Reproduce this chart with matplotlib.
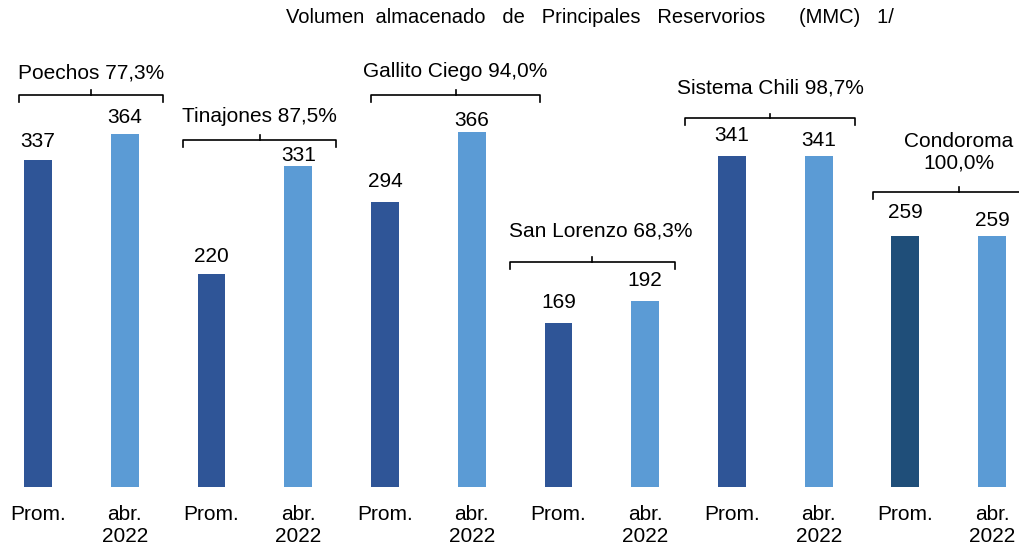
import matplotlib
matplotlib.use("Agg")
import matplotlib.pyplot as plt
import numpy as np

plt.rcParams["font.family"] = ["Liberation Sans", "DejaVu Sans"]

reservoirs = ["Poechos 77,3%", "Tinajones 87,5%", "Gallito Ciego 94,0%",
              "San Lorenzo 68,3%", "Sistema Chili 98,7%", "Condoroma\n100,0%"]
prom = [337, 220, 294, 169, 341, 259]
abr = [364, 331, 366, 192, 341, 259]
tick_labels = ["Prom.", "abr.\n2022"] * 6

# bracket placement (data units) per reservoir
br_left = [-0.22, 1.67, 3.84, 5.44, 7.46, 9.63]
br_right = [1.44, 3.44, 5.79, 7.34, 9.42, 11.6]
br_y = [404, 358, 404, 232, 380, 304]
lab_y = [427, 382, 428, 264, 411, 345]
# value label lift above bar top
lift = [19, 16, 17, 10, 20, 12, 21, 20, 21, 16, 23, 15]

dark = "#2F5597"
light = "#5B9BD5"
dark2 = "#1F4E79"

fig = plt.figure(figsize=(10.19, 5.45), dpi=100)
ax = fig.add_axes([0, 0.106, 1, 0.894])

values = []
colors = []
for i in range(6):
    values += [prom[i], abr[i]]
    colors += [dark2 if i == 5 else dark, light]
x = np.arange(12)
ax.bar(x, values, width=0.32, color=colors)

for xi, v, d in zip(x, values, lift):
    ax.text(xi, v + d * 1.03, str(v), ha="center", va="center", fontsize=15)

for i in range(6):
    l, r, y = br_left[i], br_right[i], br_y[i]
    m = (l + r) / 2
    ax.plot([l, l, r, r], [y - 7, y, y, y - 7], color="black", lw=1.2,
            clip_on=False)
    ax.plot([m, m], [y, y + 5], color="black", lw=1.2, clip_on=False)
    ax.text(m + (0.1 if i == 3 else 0), lab_y[i], reservoirs[i],
            ha="center", va="center", fontsize=15, linespacing=1.15)

ax.set_xticks(x)
ax.set_xticklabels(tick_labels, fontsize=15, linespacing=1.2)
ax.tick_params(axis="x", length=0, pad=13)
ax.set_yticks([])
ax.set_xlim(-0.438, 11.31)
ax.set_ylim(0, 502)
for s in ax.spines.values():
    s.set_visible(False)

fig.text(0.579, 0.967,
         "Volumen  almacenado   de   Principales   Reservorios      (MMC)   1/",
         ha="center", va="center", fontsize=14.5)

fig.savefig("out.png", dpi=100)
